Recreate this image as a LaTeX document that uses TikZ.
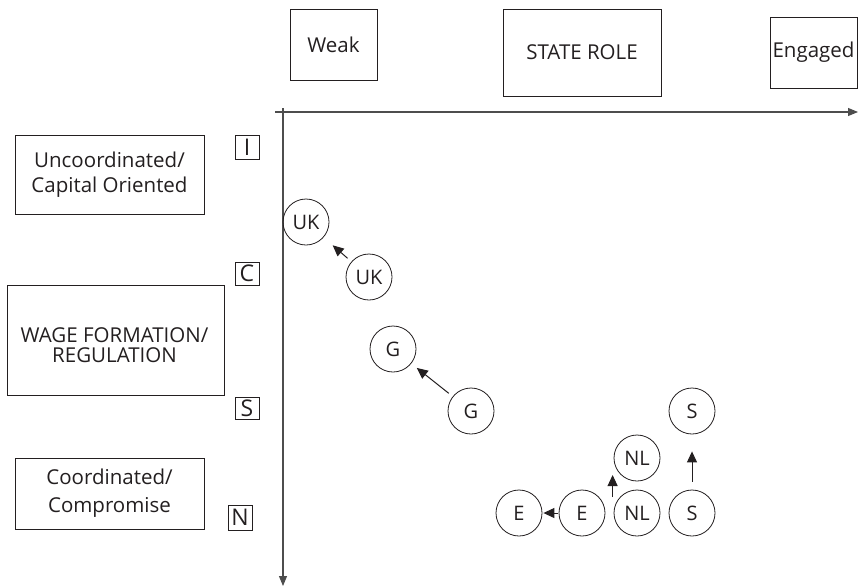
\documentclass[tikz,border=0pt]{standalone}
\usepackage{fontspec}
\setmainfont{Open Sans}
\usetikzlibrary{arrows.meta}
\definecolor{ink}{HTML}{231F20}
\definecolor{axisgray}{HTML}{4D4D4D}
\tikzset{
  box/.style={draw=ink, line width=0.9pt, inner sep=0pt, align=center, text=ink, font=\fontsize{20.5}{24}\selectfont},
  boxtext/.style={inner sep=0pt, align=center, text=ink, font=\fontsize{20.5}{24}\selectfont},
  letterbox/.style={draw=ink, line width=0.8pt, inner sep=0pt, minimum width=24pt, minimum height=23pt, text=ink, font=\fontsize{23}{23}\selectfont},
  country/.style={circle, draw=ink, line width=0.8pt, minimum size=46pt, inner sep=0pt, text=ink, font=\fontsize{20}{20}\selectfont},
  axis/.style={draw=axisgray, line width=1.1pt, -{Triangle[length=10pt,width=8pt]}},
  move/.style={draw=ink, line width=1pt, -{Triangle[length=11pt,width=10pt]}}
}
\begin{document}
\begin{tikzpicture}[x=1pt,y=-1pt]
\useasboundingbox (0,0) rectangle (858,587);
% top boxes
\node[box, minimum width=87pt, minimum height=71pt] (weak) at (333.5,44.5) {Weak};
\node[box, minimum width=158pt, minimum height=87pt] (role) at (582,52.5) {STATE ROLE};
\node[box, minimum width=87pt, minimum height=71pt] (eng) at (813.5,52.5) {Engaged};
% left boxes
\node[box, minimum width=189pt, minimum height=79pt, font=\fontsize{20.5}{25}\selectfont] (unc) at (109.5,174.5) {Uncoordinated/\\Capital Oriented};
\node[box, minimum width=217pt, minimum height=110pt] (wage) at (115.5,340) {};
\node[boxtext, font=\fontsize{20.5}{20.5}\selectfont] (wagetext) at (114.5,345) {WAGE FORMATION/\\REGULATION};
\node[box, minimum width=189pt, minimum height=71pt, font=\fontsize{20.5}{28}\selectfont] (coord) at (109.5,493.5) {Coordinated/\\Compromise};
% letter boxes
\node[letterbox, minimum height=24pt] (li) at (247,147) {I};
\node[letterbox] (lc) at (247,273.5) {C};
\node[letterbox, minimum height=22pt] (ls) at (247,408) {S};
\node[letterbox, minimum height=25pt] (ln) at (240,517.5) {N};
% axes
\coordinate (xs) at (275,112);
\coordinate (xe) at (858,112);
\coordinate (ys) at (283,108);
\coordinate (ye) at (283,586);
\draw[axis] (xs) -- (xe);
\draw[axis] (ys) -- (ye);
% countries
\node[country] (uk1) at (306,222) {UK};
\node[country] (uk2) at (369,277) {UK};
\node[country] (g1) at (393,349) {G};
\node[country] (g2) at (471,411) {G};
\node[country] (s2) at (692,411) {S};
\node[country] (nl2) at (637,458) {NL};
\node[country] (e1) at (519,513) {E};
\node[country] (e2) at (582,513) {E};
\node[country] (nl1) at (637,513) {NL};
\node[country] (s1) at (692,513) {S};
% movements
\draw[move, shorten <=5pt, shorten >=12pt] (uk2) -- (uk1);
\draw[move, shorten <=5pt, shorten >=7pt] (g2) -- (g1);
\draw[move, shorten <=1pt, shorten >=1pt] (e2) -- (e1);
\draw[move] ([xshift=-1pt,yshift=16pt]nl1.west) -- ([xshift=-1pt,yshift=-17pt]nl2.west);
\draw[move, shorten <=8pt, shorten >=17pt] (s1) -- (s2);
\end{tikzpicture}
\end{document}
